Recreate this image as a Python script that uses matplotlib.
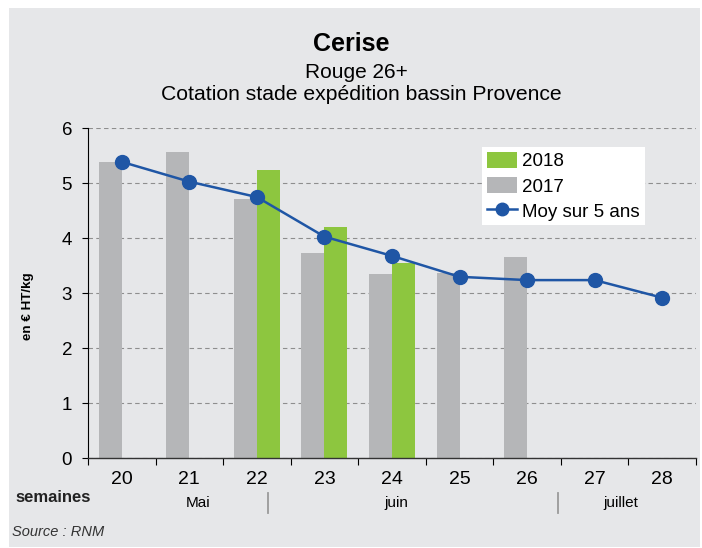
import matplotlib
matplotlib.use("Agg")
import matplotlib.pyplot as plt
import matplotlib.transforms as mtransforms
from matplotlib.patches import Patch, Rectangle
from matplotlib.lines import Line2D
import numpy as np

plt.rcParams['font.family'] = ['Liberation Sans', 'DejaVu Sans']

# --- données ---
semaines = ['20', '21', '22', '23', '24', '25', '26', '27', '28']
prix_2017 = [5.39, 5.57, 4.71, 3.73, 3.36, 3.37, 3.66, np.nan, np.nan]
prix_2018 = [np.nan, np.nan, 5.24, 4.21, 3.55, np.nan, np.nan, np.nan, np.nan]
moy_5ans = [5.39, 5.03, 4.75, 4.03, 3.68, 3.30, 3.24, 3.24, 2.92]
mois = ['Mai', 'juin', 'juillet']
mois_pos = [1.13, 4.06, 7.38]
separateurs = [2.16, 6.46]

BG = '#e6e7e9'
GRIS = '#b5b6b8'
VERT = '#8dc63f'
BLEU = '#1f56a5'

fig = plt.figure(figsize=(7.02, 5.48), dpi=100)
fig.patch.set_facecolor('white')
fig.patches.append(Rectangle((9 / 702, 1 - 547 / 548), 691 / 702, 539 / 548,
                             transform=fig.transFigure, facecolor=BG,
                             edgecolor='none', zorder=-10))

ax = fig.add_axes([88 / 702, 1 - 458.3 / 548, 608 / 702, 330 / 548])
ax.set_facecolor(BG)

x = np.arange(len(semaines))
w = 0.34
ax.bar(x - w / 2, prix_2017, width=w, color=GRIS, zorder=2)
ax.bar(x + w / 2, prix_2018, width=w, color=VERT, zorder=2)
ax.plot(x, moy_5ans, color=BLEU, lw=1.8, marker='o', ms=10, zorder=3)

ax.set_xlim(-0.5, len(semaines) - 0.5)
ax.set_ylim(0, 6)
ax.set_yticks(range(7))
ax.tick_params(axis='y', labelsize=13.5, length=4, width=0.8, pad=7.5)
ax.set_xticks(np.arange(-0.5, len(semaines), 1))
ax.set_xticklabels([])
ax.set_xticks(x, minor=True)
ax.set_xticklabels(semaines, minor=True)
ax.tick_params(axis='x', which='major', length=5, width=0.8, direction='out')
ax.tick_params(axis='x', which='minor', length=0, labelsize=14, pad=9)
ax.yaxis.grid(True, linestyle=(0, (4, 3)), color='#8e8e8e', lw=0.8, zorder=0)
for s in ['top', 'right']:
    ax.spines[s].set_visible(False)
ax.spines['left'].set_linewidth(0.8)
ax.spines['bottom'].set_linewidth(1.0)
ax.spines['bottom'].set_color('#333333')

ax.set_ylabel('en € HT/kg', fontsize=9.6, fontweight='bold')
ax.yaxis.set_label_coords(-0.088, 0.46)

handles = [Patch(facecolor=VERT, label='2018'),
           Patch(facecolor=GRIS, label='2017'),
           Line2D([], [], color=BLEU, lw=1.8, marker='o', ms=9, label='Moy sur 5 ans')]
leg = ax.legend(handles=handles, loc='upper left', bbox_to_anchor=(0.648, 0.943),
                borderaxespad=0, fontsize=13.5, frameon=True, fancybox=False,
                framealpha=1, edgecolor='white', borderpad=0.25, labelspacing=0.35,
                handlelength=1.6, handleheight=0.96, handletextpad=0.3)
leg.get_frame().set_linewidth(0)

# titres
fig.text(351 / 702, 1 - 44 / 548, 'Cerise', ha='center', va='center', fontsize=18,
         fontweight='bold')
fig.text(356 / 702, 1 - 72 / 548, 'Rouge 26+', ha='center', va='center', fontsize=15)
fig.text(361 / 702, 1 - 95 / 548, 'Cotation stade expédition bassin Provence',
         ha='center', va='center', fontsize=15.2)

# mois sous l'axe
trans = mtransforms.blended_transform_factory(ax.transData, fig.transFigure)
for m, p in zip(mois, mois_pos):
    ax.text(p, 1 - 503 / 548, m, transform=trans, ha='center', va='center', fontsize=11)
for s in separateurs:
    ax.add_line(Line2D([s, s], [1 - 493 / 548, 1 - 513 / 548], transform=trans,
                       color='#9a9a9a', lw=1.3, clip_on=False))
fig.text(15 / 702, 1 - 497 / 548, 'semaines', ha='left', va='center', fontsize=12,
         fontweight='bold', color='#222222')
fig.text(12 / 702, 1 - 532 / 548, 'Source : RNM', ha='left', va='center', fontsize=10.5,
         style='italic', color='#333333')

fig.savefig('out.png', dpi=100, facecolor=fig.get_facecolor())
